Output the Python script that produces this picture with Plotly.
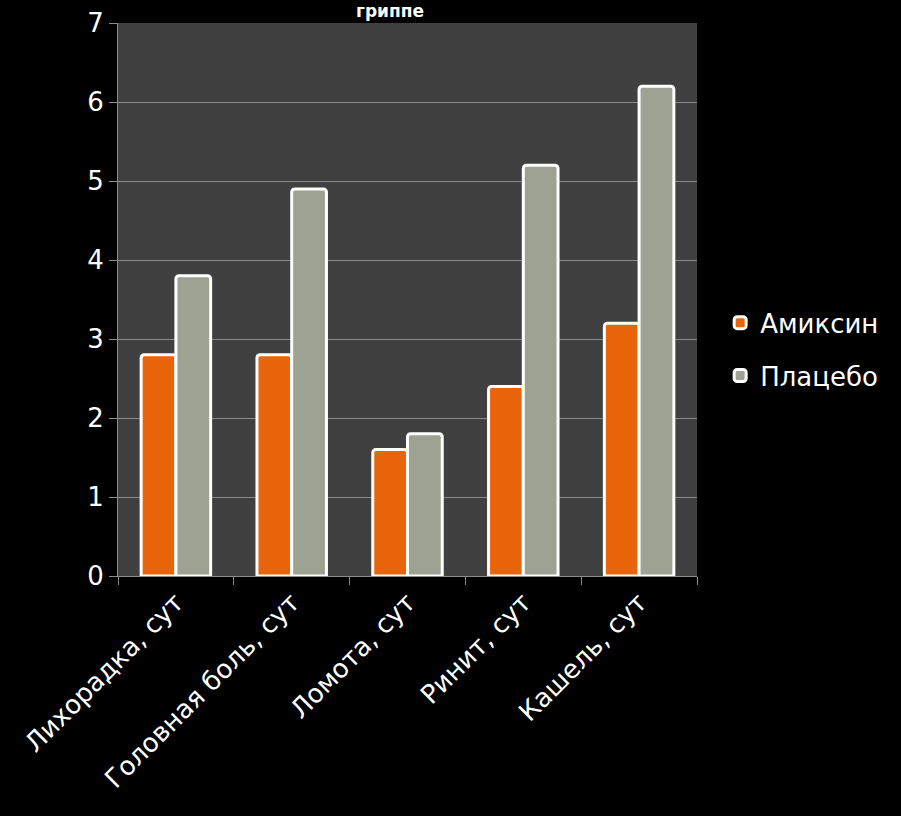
import plotly.graph_objects as go

categories = ["Лихорадка, сут", "Головная боль, сут", "Ломота, сут", "Ринит, сут", "Кашель, сут"]
amiksin = [2.8, 2.8, 1.6, 2.4, 3.2]
placebo = [3.8, 4.9, 1.8, 5.2, 6.2]
series_names = ["Амиксин", "Плацебо"]
title_text = "гриппе"

FONT = "DejaVu Sans, Liberation Sans, Arial, sans-serif"

fig = go.Figure()
fig.add_trace(go.Bar(
    x=categories, y=amiksin, name=series_names[0], legendgroup="a",
    marker=dict(color="#E8650C", line=dict(color="white", width=3), cornerradius=3),
))
fig.add_trace(go.Bar(
    x=categories, y=placebo, name=series_names[1], legendgroup="b",
    marker=dict(color="#9DA293", line=dict(color="white", width=3), cornerradius=3),
))

fig.update_layout(
    width=901, height=816,
    paper_bgcolor="black", plot_bgcolor="#404040",
    margin=dict(l=118, r=204, t=23, b=240, autoexpand=False),
    barmode="group", bargap=0.4, bargroupgap=0.0,
    font=dict(family=FONT, color="white", size=26),
    showlegend=True,
    legend=dict(x=1.04, y=0.41, xanchor="left", yanchor="middle",
                font=dict(size=26, color="white"), bgcolor="rgba(0,0,0,0)",
                itemwidth=30, tracegroupgap=16),
    annotations=[dict(text="<b>" + title_text + "</b>", xref="paper", yref="paper",
                      x=0.47, y=1.0, yshift=0, xanchor="center", yanchor="bottom",
                      showarrow=False, font=dict(size=17, color="white", family=FONT))],
)
fig.update_xaxes(
    type="category", tickangle=-45, tickfont=dict(size=26, color="white"),
    showline=True, linecolor="#8c8c8c", linewidth=1, automargin=False,
    ticks="outside", tickson="boundaries", ticklen=8, tickcolor="#8c8c8c",
    showgrid=False,
)
fig.update_yaxes(
    range=[0, 7], dtick=1, tickfont=dict(size=26, color="white"),
    showline=True, linecolor="#8c8c8c", linewidth=1, automargin=False,
    ticks="outside", ticklen=8, tickcolor="#8c8c8c",
    showgrid=True, gridcolor="#8a8a8a", gridwidth=1, zeroline=False,
)

fig.write_html("out.html")
